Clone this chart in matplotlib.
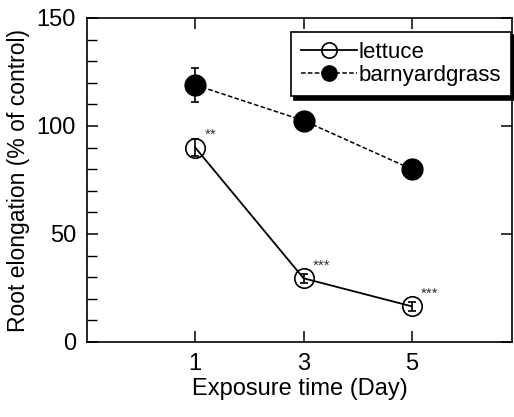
import matplotlib
matplotlib.use("Agg")
import matplotlib.pyplot as plt
from matplotlib.ticker import MultipleLocator
from matplotlib.lines import Line2D

plt.rcParams['font.family'] = ['Liberation Sans', 'DejaVu Sans']

days = [1, 3, 5]
lettuce = [90, 29.5, 16.5]
lettuce_err = [4, 2, 2]
barnyard = [119, 102.5, 80]
barnyard_err = [8, 1.5, 1.5]
sig_labels = ["**", "***", "***"]
series_names = ['lettuce', 'barnyardgrass']

fig = plt.figure(figsize=(5.14, 4.17), dpi=100)
ax = fig.add_axes([87/514, 1-342/417, (512-87)/514, 324/417])

ax.errorbar(days, lettuce, yerr=lettuce_err, fmt='-o', color='black', mfc='none',
            mec='black', ms=14, mew=1.2, lw=1.3, capsize=3, elinewidth=1.2, capthick=1.2)
ax.errorbar(days, barnyard, yerr=barnyard_err, fmt='--o', color='black', mfc='black',
            mec='black', ms=15, lw=1.1, capsize=3, elinewidth=1.2, capthick=1.2,
            dashes=(3, 1.5))

for x, y, s in zip(days, lettuce, sig_labels):
    ax.text(x + 0.17, y + 2.5, s, fontsize=11, color='#333333', ha='left', va='bottom')

ax.set_xlim(-1, 6.85)
ax.set_ylim(0, 150)
ax.set_xticks(days)
ax.set_yticks([0, 50, 100, 150])
ax.yaxis.set_minor_locator(MultipleLocator(10))
ax.tick_params(which='major', direction='in', length=8, width=1.1, labelsize=17,
               top=True, right=True, pad=8)
ax.tick_params(which='minor', direction='in', length=7, width=1.0, top=False, right=False)
for sp in ax.spines.values():
    sp.set_linewidth(1.2)
    sp.set_zorder(5)

ax.set_xlabel('Exposure time (Day)', fontsize=17, labelpad=2)
ax.set_ylabel('Root elongation (% of control)', fontsize=16.5, labelpad=5)

h1 = Line2D([], [], ls='-', color='black', marker='o', mfc='none', mec='black', ms=11,
            mew=1.2, lw=1.3)
h2 = Line2D([], [], ls='--', color='black', marker='o', mfc='black', mec='black', ms=11,
            lw=1.1, dashes=(3, 1.5))
leg = ax.legend(handles=[h1, h2], labels=series_names, loc='upper left',
                bbox_to_anchor=(291/514, 1-32/417), bbox_transform=fig.transFigure,
                borderaxespad=0, fontsize=16, frameon=True, fancybox=False,
                edgecolor='black', handlelength=2.5, handletextpad=0.1,
                borderpad=0.45, labelspacing=0.1,
                shadow={'color': 'black', 'alpha': 1.0, 'ox': 2.5, 'oy': -2.5})
leg.get_frame().set_linewidth(1.2)
leg.get_frame().set_alpha(1)

fig.savefig('out.png', dpi=100)
